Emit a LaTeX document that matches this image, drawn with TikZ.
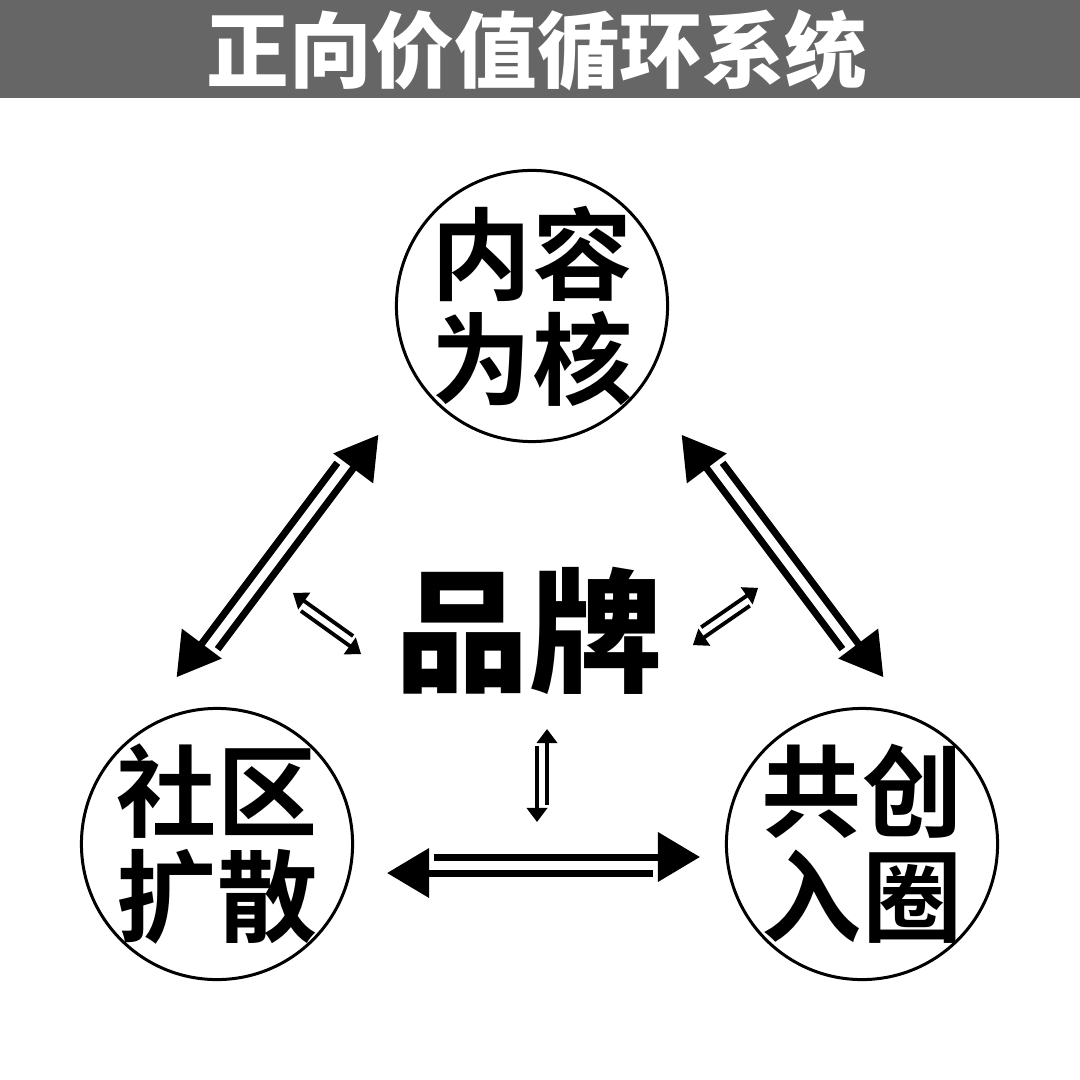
\documentclass[tikz,border=0pt]{standalone}
\usepackage{fontspec}
\usepackage{tikz}
\usetikzlibrary{arrows.meta}
\usetikzlibrary{calc}
\newfontfamily\cjkbold{Noto Sans CJK SC Bold}
\newfontfamily\cjkblack{Noto Sans CJK SC Black}
\definecolor{titlegray}{HTML}{666666}
% two parallel arrows between #2 and #3, half gap #4, sides #5 / #6
\newcommand{\twoway}[6][]{%
	\draw[#1] ($(#2)!#4!#5:(#3)$) -- ($(#3)!#4!#6:(#2)$);
	\draw[#1] ($(#3)!#4!#5:(#2)$) -- ($(#2)!#4!#6:(#3)$);
}
\tikzset{
	bigarrow/.style={line width=0.07cm, -{Triangle[length=0.42cm,width=0.48cm]}, shorten <=0.47cm},
	smallarrow/.style={line width=0.038cm, -{Triangle[length=0.14cm,width=0.2cm]}, shorten <=0.17cm},
	topic/.style={circle, draw, line width=0.03cm, minimum size=2.71cm, inner sep=-0.2cm, align=center,
		font=\cjkbold\fontsize{28.5pt}{29.8pt}\selectfont},
}

\begin{document}
\begin{tikzpicture}[x=0.01cm, y=-0.01cm] % one unit is one pixel of the 1080 x 1080 picture
	\useasboundingbox (0,0) rectangle (1080,1080);
	
	% Title bar
	\fill[titlegray] (0,0) rectangle (1080,98);
	\node[text=white, font=\cjkblack\fontsize{23.5pt}{24pt}\selectfont] (title) at (537,50) {正向价值循环系统};
	
	% The three circles and the brand in the middle
	\node[topic] (content) at (532,306) {内容\\为核};
	\node[topic] (community) at (217,844) {社区\\扩散};
	\node[topic] (cocreate) at (862,844) {共创\\入圈};
	\node[font=\cjkblack\fontsize{38pt}{40pt}\selectfont] (brand) at (529,631) {品牌};
	
	% Ends of the arrows
	\coordinate (cl-a) at (183,682);
	\coordinate (cl-b) at (372,430);
	\coordinate (cr-a) at (688,430);
	\coordinate (cr-b) at (877,682);
	\coordinate (lr-a) at (387,865);
	\coordinate (lr-b) at (700,865);
	\coordinate (bl-a) at (290,597);
	\coordinate (bl-b) at (364,650);
	\coordinate (br-a) at (690,641);
	\coordinate (br-b) at (761,592);
	\coordinate (bd-a) at (542,822);
	\coordinate (bd-b) at (542,729);
	
	% Big arrows round the circle
	\twoway[bigarrow]{cl-a}{cl-b}{0.08cm}{-90}{90}
	\twoway[bigarrow]{cr-a}{cr-b}{0.08cm}{90}{-90}
	\twoway[bigarrow]{lr-a}{lr-b}{0.08cm}{90}{-90}
	
	% Small arrows to the brand
	\twoway[smallarrow]{bl-a}{bl-b}{0.05cm}{-90}{90}
	\twoway[smallarrow]{br-a}{br-b}{0.05cm}{90}{-90}
	\twoway[smallarrow]{bd-a}{bd-b}{0.05cm}{-90}{90}
\end{tikzpicture}
\end{document}
